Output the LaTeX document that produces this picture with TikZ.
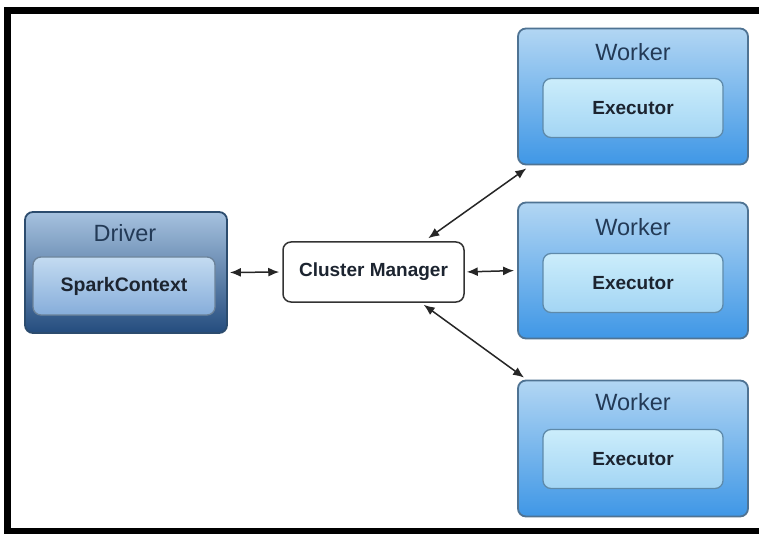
\documentclass[tikz,border=0pt]{standalone}
\usepackage{fontspec}
\setmainfont{Liberation Sans}
\usetikzlibrary{arrows.meta,calc}
\definecolor{wtop}{HTML}{B2D6F3}
\definecolor{wbot}{HTML}{3F97E6}
\definecolor{wbord}{HTML}{4F7393}
\definecolor{etop}{HTML}{CBEDFB}
\definecolor{ebot}{HTML}{A3D5F4}
\definecolor{ebord}{HTML}{5E8AAA}
\definecolor{dtop}{HTML}{A6C2DF}
\definecolor{dbot}{HTML}{244C7E}
\definecolor{dbord}{HTML}{2C4C6E}
\definecolor{stop}{HTML}{C3DBF1}
\definecolor{sbot}{HTML}{86ADDA}
\definecolor{ttl}{HTML}{233A56}
\definecolor{txt}{HTML}{1C2430}
\tikzset{
  outerbox/.style={draw=wbord, line width=1.8pt, rounded corners=8pt, rectangle,
    top color=wtop, bottom color=wbot, minimum width=230pt, minimum height=136pt, inner sep=0pt},
  execbox/.style={draw=ebord, line width=1.3pt, rounded corners=8pt, rectangle,
    top color=etop, bottom color=ebot, minimum width=180pt, minimum height=59pt, inner sep=0pt,
    font=\fontsize{19}{21}\selectfont\bfseries, text=txt},
  drvbox/.style={draw=dbord, line width=1.8pt, rounded corners=8pt, rectangle,
    top color=dtop, bottom color=dbot, minimum width=202pt, minimum height=121pt, inner sep=0pt},
  sparkbox/.style={draw=dbord!70, line width=1.3pt, rounded corners=8pt, rectangle,
    top color=stop, bottom color=sbot, minimum width=182pt, minimum height=58pt, inner sep=0pt,
    font=\fontsize{19.5}{21}\selectfont\bfseries, text=txt},
  cmbox/.style={draw=black!80, line width=1.5pt, rounded corners=8pt, rectangle, fill=white,
    minimum width=181pt, minimum height=60pt, inner sep=0pt,
    font=\fontsize{19}{21}\selectfont\bfseries, text=txt},
  title/.style={font=\fontsize{23.5}{25}\selectfont, text=ttl, inner sep=0pt},
  conn/.style={draw=black!85, line width=1.5pt, {Latex[length=11pt,width=9pt]}-{Latex[length=11pt,width=9pt]}},
  frame/.style={line width=7pt, draw=black, line join=miter}
}
\begin{document}
\begin{tikzpicture}[x=1pt,y=-1pt]
\useasboundingbox (0,0) rectangle (759,534);
\fill[white] (0,0) rectangle (759,534);
\draw[frame] (759,11) -- (7.5,11) -- (7.5,531.5) -- (759,531.5);

% workers
\node[outerbox] (w1) at (633,96.5) {};
\node[title] (w1t) at (633,52) {Worker};
\node[execbox] (e1) at (633,108) {Executor};

\node[outerbox] (w2) at (633,270.5) {};
\node[title] (w2t) at (633,227) {Worker};
\node[execbox] (e2) at (633,283) {Executor};

\node[outerbox] (w3) at (633,448.5) {};
\node[title] (w3t) at (633,402) {Worker};
\node[execbox] (e3) at (633,459) {Executor};

% driver
\node[drvbox] (drv) at (126,272.5) {};
\node[title] (drvt) at (125,233) {Driver};
\node[sparkbox] (sc) at (124,286) {SparkContext};

% cluster manager
\node[cmbox] (cm) at (373.5,272) {Cluster Manager};

% connectors
\draw[conn, shorten <=2pt, shorten >=3pt] (drv.east) -- (cm.west);
\draw[conn, shorten <=2pt, shorten >=3pt] (cm.east) -- (w2.west);
\draw[conn] ($(cm.north)!0.6!(cm.north east)+(0,-3)$) -- ($(w1.south west)!0.04!(w1.south east)+(0,3)$);
\draw[conn] ($(cm.south)!0.55!(cm.south east)+(0,2)$) -- ($(w3.north west)!0.03!(w3.north east)+(0,-2)$);
\end{tikzpicture}
\end{document}
